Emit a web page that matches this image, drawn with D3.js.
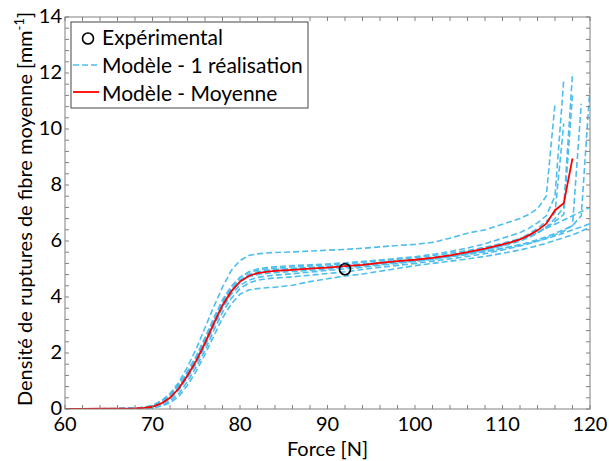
<!DOCTYPE html>
<html><head><meta charset="utf-8">
<script src="https://cdn.jsdelivr.net/npm/d3@7"></script>
<style>body{margin:0;background:#fff}svg{display:block}text{font-family:Lato,"Open Sans",sans-serif;fill:#000}</style>
</head><body><svg id="c" width="609" height="461"></svg>
<script>
const force = [60,62,64,66,68,69,70,71,72,73,74,75,76,77,78,79,80,81,82,83,84,86,88,90,92,94,96,98,100,102,104,106,108,110,111,112,113,114,115,116,117,118,119,120];
const meanModel = [0,0,0.01,0.01,0.02,0.04,0.08,0.2,0.4,0.73,1.2,1.72,2.35,3.05,3.7,4.2,4.55,4.75,4.85,4.9,4.93,4.97,5.01,5.05,5.1,5.15,5.22,5.28,5.33,5.4,5.49,5.6,5.73,5.88,5.96,6.06,6.2,6.38,6.62,7.1,7.35,8.95,null,null];
const real1 = [0,0,0,0.01,0.02,0.05,0.12,0.28,0.55,0.95,1.5,2.15,2.9,3.65,4.35,4.95,5.3,5.48,5.54,5.57,5.59,5.61,5.64,5.67,5.7,5.74,5.79,5.84,5.88,5.95,6.1,6.28,6.4,6.6,6.7,6.8,6.95,7.15,7.6,10.9,null,null,null,null];
const real2 = [0,0,0.01,0.01,0.03,0.06,0.12,0.3,0.52,0.85,1.3,1.85,2.5,3.2,3.85,4.35,4.7,4.9,5.0,5.05,5.08,5.12,5.15,5.18,5.22,5.27,5.32,5.38,5.44,5.52,5.62,5.75,5.9,6.1,6.2,6.3,6.45,6.65,6.9,7.6,11.75,null,null,null];
const real3 = [0,0,0,0.01,0.02,0.03,0.06,0.15,0.35,0.68,1.15,1.7,2.35,3.05,3.7,4.2,4.55,4.75,4.85,4.9,4.93,4.98,5.02,5.06,5.1,5.15,5.2,5.26,5.32,5.38,5.46,5.56,5.68,5.82,5.9,6.0,6.12,6.28,6.5,6.8,7.2,12.0,null,null];
const real4 = [0,0,0,0,0.01,0.02,0.05,0.12,0.28,0.55,0.98,1.5,2.1,2.8,3.45,3.95,4.3,4.5,4.6,4.65,4.68,4.72,4.78,4.84,4.9,4.98,5.06,5.13,5.2,5.28,5.36,5.45,5.55,5.68,5.75,5.82,5.9,6.0,6.1,6.22,6.35,6.55,10.9,null];
const real5 = [0,0,0.01,0.01,0.02,0.04,0.09,0.22,0.45,0.8,1.25,1.8,2.45,3.15,3.8,4.28,4.6,4.78,4.87,4.92,4.95,4.99,5.03,5.07,5.11,5.16,5.21,5.26,5.31,5.37,5.45,5.53,5.62,5.73,5.8,5.87,5.95,6.05,6.15,6.27,6.4,6.55,6.9,11.5];
const real6 = [0,0,0,0.01,0.02,0.04,0.1,0.25,0.5,0.88,1.35,1.9,2.55,3.25,3.9,4.38,4.7,4.88,4.96,5.0,5.03,5.07,5.11,5.15,5.19,5.24,5.29,5.35,5.41,5.48,5.56,5.66,5.78,5.92,6.0,6.08,6.18,6.3,6.45,6.6,6.75,6.9,7.05,7.2];
const real7 = [0,0,0,0,0.01,0.02,0.04,0.1,0.22,0.45,0.85,1.35,1.95,2.6,3.25,3.75,4.1,4.25,4.3,4.33,4.35,4.42,4.55,4.65,4.75,4.82,4.92,5.02,5.12,5.2,5.28,5.36,5.45,5.56,5.62,5.68,5.75,5.83,5.92,6.02,6.12,6.22,6.35,6.5];
const real8 = [0,0,0.01,0.02,0.03,0.05,0.11,0.26,0.48,0.82,1.28,1.8,2.42,3.1,3.75,4.25,4.6,4.8,4.9,4.95,4.98,5.02,5.06,5.1,5.14,5.18,5.23,5.29,5.35,5.42,5.5,5.6,5.72,5.85,5.94,6.04,6.16,6.3,6.48,6.7,6.95,11.2,null,null];
const real9 = [0,0,0,0.01,0.02,0.03,0.07,0.18,0.38,0.7,1.12,1.62,2.25,2.95,3.6,4.1,4.42,4.6,4.7,4.75,4.78,4.83,4.89,4.95,5.0,5.06,5.13,5.2,5.27,5.35,5.44,5.55,5.68,5.84,5.95,6.08,6.25,6.45,6.7,7.0,10.2,null,null,null];
const real10 = [0,0,0,0.01,0.02,0.04,0.08,0.2,0.42,0.76,1.22,1.75,2.38,3.08,3.72,4.22,4.55,4.72,4.8,4.84,4.87,4.91,4.95,5.0,5.05,5.1,5.16,5.22,5.28,5.35,5.43,5.52,5.62,5.74,5.8,5.86,5.93,6.0,6.08,6.18,6.28,6.4,6.5,6.62];
const realisations = [real1,real2,real3,real4,real5,real6,real7,real8,real9,real10];
const expForce = [92];
const expDensity = [4.99];
const xTicks = [60,70,80,90,100,110,120];
const yTicks = [0,2,4,6,8,10,12,14];
const legendLabels = ["Expérimental","Modèle - 1 réalisation","Modèle - Moyenne"];

const svg = d3.select("#c");
const L=65,R=590,T=17,B=409;
const x = d3.scaleLinear().domain([60,120]).range([L,R]);
const y = d3.scaleLinear().domain([0,14]).range([B,T]);
const blue="#4DBEEE", red="#FF0000", axisCol="#808080";

svg.append("defs").append("clipPath").attr("id","clip").append("rect")
  .attr("x",L).attr("y",T).attr("width",R-L).attr("height",B-T);

const line = d3.line().defined(d=>d[1]!=null).x(d=>x(d[0])).y(d=>y(d[1]));
const g = svg.append("g").attr("clip-path","url(#clip)");
realisations.forEach(s=>{
  g.append("path").datum(force.map((f,i)=>[f,s[i]]))
   .attr("d",line).attr("fill","none").attr("stroke",blue)
   .attr("stroke-width",1.6).attr("stroke-dasharray","6,3");
});
g.append("path").datum(force.map((f,i)=>[f,meanModel[i]]))
  .attr("d",line).attr("fill","none").attr("stroke",red).attr("stroke-width",1.8);
g.selectAll("circle.exp").data(expForce).enter().append("circle")
  .attr("cx",d=>x(d)).attr("cy",(d,i)=>y(expDensity[i])).attr("r",5.5)
  .attr("fill","none").attr("stroke","#000").attr("stroke-width",1.6);

// axes (ticks inside on all sides)
const tl=4;
const xMinor = d3.range(60,121,2), yMinor = d3.range(0,14.01,0.4).map(v=>+v.toFixed(2));
const ax = svg.append("g").attr("stroke",axisCol).attr("stroke-width",1);
ax.append("rect").attr("x",L).attr("y",T).attr("width",R-L).attr("height",B-T).attr("fill","none");
xMinor.forEach(v=>{
  ax.append("line").attr("x1",x(v)).attr("x2",x(v)).attr("y1",B).attr("y2",B-tl);
  ax.append("line").attr("x1",x(v)).attr("x2",x(v)).attr("y1",T).attr("y2",T+tl);
});
yMinor.forEach(v=>{
  ax.append("line").attr("y1",y(v)).attr("y2",y(v)).attr("x1",L).attr("x2",L+tl);
  ax.append("line").attr("y1",y(v)).attr("y2",y(v)).attr("x1",R).attr("x2",R-tl);
});
const fs=21;
svg.append("g").selectAll("text").data(xTicks).enter().append("text")
  .attr("x",d=>x(d)).attr("y",B+22).attr("text-anchor","middle").attr("font-size",20).text(d=>d);
svg.append("g").selectAll("text").data(yTicks).enter().append("text")
  .attr("x",L-3).attr("y",d=>y(d)+6).attr("text-anchor","end").attr("font-size",20).text(d=>d);

svg.append("text").attr("x",(L+R)/2).attr("y",456).attr("text-anchor","middle").attr("font-size",20).text("Force [N]");
const yl = svg.append("text").attr("transform","translate(32,209) rotate(-90)").attr("text-anchor","middle").attr("font-size",20);
yl.append("tspan").text("Densité de ruptures de fibre moyenne [mm");
yl.append("tspan").attr("font-size",13).attr("dy",-8).text("-1");
yl.append("tspan").attr("dy",8).text("]");

// legend
const lg = svg.append("g");
lg.append("rect").attr("x",71).attr("y",22).attr("width",237).attr("height",86).attr("fill","#fff").attr("stroke","#444").attr("stroke-width",1);
lg.append("circle").attr("cx",88).attr("cy",38.5).attr("r",5.5).attr("fill","none").attr("stroke","#000").attr("stroke-width",1.6);
lg.append("line").attr("x1",73).attr("x2",99).attr("y1",65).attr("y2",65).attr("stroke",blue).attr("stroke-width",1.6).attr("stroke-dasharray","6,3");
lg.append("line").attr("x1",73).attr("x2",99).attr("y1",92).attr("y2",92).attr("stroke",red).attr("stroke-width",1.8);
[45,73,101].forEach((yy,i)=>lg.append("text").attr("x",102).attr("y",yy).attr("font-size",fs).text(legendLabels[i]));
</script></body></html>
